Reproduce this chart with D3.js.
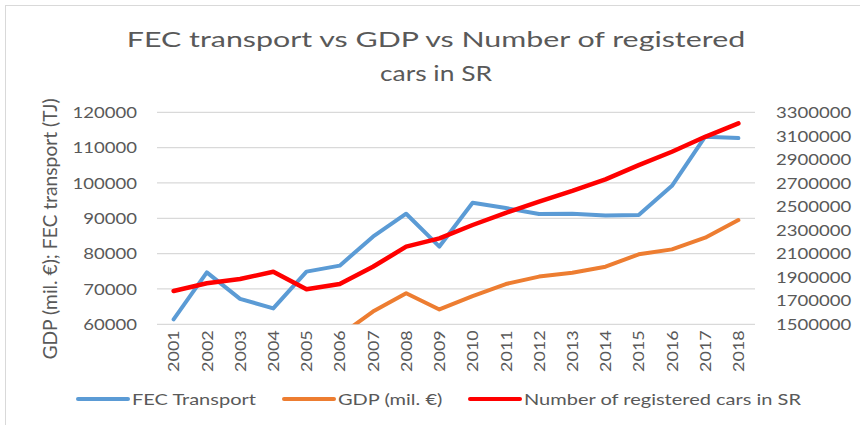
<!DOCTYPE html>
<html>
<head>
<meta charset="utf-8">
<script src="https://cdn.jsdelivr.net/npm/d3@7"></script>
<style>
    body { margin: 0; background: #fff; }
    text { font-family: Lato, "Open Sans", sans-serif; fill: #595959; }
</style>
</head>
<body>
<svg id="chart"></svg>
<script>
// Data
let years = ['2001', '2002', '2003', '2004', '2005', '2006', '2007', '2008', '2009',
    '2010', '2011', '2012', '2013', '2014', '2015', '2016', '2017', '2018'];

let fecTransport = [61400, 74700, 67200, 64500, 74900, 76600, 84800, 91300, 82000,
    94400, 92900, 91200, 91300, 90800, 90900, 99200, 113100, 112700];

// GDP below 60000 is outside the axis; only 2006 is estimated from the clipped segment
let gdp = [null, null, null, null, null, 56800, 63600, 68800, 64200,
    68000, 71400, 73500, 74600, 76300, 79800, 81200, 84500, 89500];

let cars = [1783000, 1848000, 1885000, 1946000, 1797000, 1842000, 1989000, 2159000, 2230000,
    2343000, 2447000, 2541000, 2632000, 2731000, 2852000, 2965000, 3092000, 3206000];

let leftTicks = [60000, 70000, 80000, 90000, 100000, 110000, 120000];
let rightTicks = [1500000, 1700000, 1900000, 2100000, 2300000, 2500000, 2700000, 2900000, 3100000, 3300000];

let titleLines = ['FEC transport vs GDP vs Number of registered', 'cars in SR'];
let leftTitle = 'GDP (mil. €); FEC transport (TJ)';

let series = [
    { name: 'FEC Transport', values: fecTransport, axis: 'left', color: '#5b9bd5' },
    { name: 'GDP (mil. €)', values: gdp, axis: 'left', color: '#ed7d31' },
    { name: 'Number of registered cars in SR', values: cars, axis: 'right', color: '#ff0000' }
];

// Layout
let c = {
    svg: { width: 860, height: 425 },
    plot: { left: 157, right: 755, top: 112.3, bottom: 324.3 },
    stretch: 1.25,
    digit: 10.75
};

let svg = d3.select('#chart')
    .attr('width', c.svg.width)
    .attr('height', c.svg.height);

// outer frame (only left and top edges fall inside the picture)
svg.append('rect')
    .attr('x', 5.5).attr('y', 5.5)
    .attr('width', 900).attr('height', 500)
    .attr('fill', 'none')
    .attr('stroke', '#d9d9d9');

let x = d3.scaleBand()
    .domain(years)
    .range([c.plot.left, c.plot.right]);

let yL = d3.scaleLinear()
    .domain([60000, 120000])
    .range([c.plot.bottom, c.plot.top]);

let yR = d3.scaleLinear()
    .domain([1500000, 3300000])
    .range([c.plot.bottom, c.plot.top]);

/**
 * Widen text horizontally, the reference picture is stretched sideways
 */
function widen(sel, k) {
    sel.each(function () {
        let w = this.getComputedTextLength();
        d3.select(this)
            .attr('textLength', w * k)
            .attr('lengthAdjust', 'spacingAndGlyphs');
    });
}

/**
 * Give every digit the same width, like the tabular figures of the reference
 */
function evenDigits(sel) {
    sel.each(function () {
        let n = this.textContent.length;
        d3.select(this)
            .attr('textLength', n * c.digit)
            .attr('lengthAdjust', 'spacingAndGlyphs');
    });
}

// gridlines
svg.append('g')
    .selectAll('line')
    .data(leftTicks)
    .join('line')
    .attr('x1', c.plot.left)
    .attr('x2', c.plot.right)
    .attr('y1', d => yL(d))
    .attr('y2', d => yL(d))
    .attr('stroke', '#d9d9d9')
    .attr('stroke-width', 1.3);

// left axis
let gLeft = svg.append('g')
    .attr('transform', translate(137, 0))
    .call(d3.axisLeft(yL).tickValues(leftTicks).tickSize(0).tickPadding(0).tickFormat(d3.format('d')));
gLeft.select('.domain').remove();
gLeft.selectAll('text')
    .attr('font-size', 14.5)
    .attr('dy', '0.36em')
    .call(evenDigits);

// right axis
let gRight = svg.append('g')
    .attr('transform', translate(776, 0))
    .call(d3.axisRight(yR).tickValues(rightTicks).tickSize(0).tickPadding(0).tickFormat(d3.format('d')));
gRight.select('.domain').remove();
gRight.selectAll('text')
    .attr('font-size', 14.5)
    .attr('dy', '0.36em')
    .call(evenDigits);

// bottom axis
let gBottom = svg.append('g')
    .attr('transform', translate(0, c.plot.bottom))
    .call(d3.axisBottom(x).tickSize(0).tickPadding(0));
gBottom.select('.domain').remove();
gBottom.selectAll('text')
    .attr('font-size', 16)
    .attr('text-anchor', 'end')
    .attr('transform', 'rotate(-90)')
    .attr('x', -6)
    .attr('y', 0)
    .attr('dy', '0.36em')
    .call(widen, 1.12);

// left axis title
svg.append('text')
    .attr('transform', translate(57, 229) + ' rotate(-90)')
    .attr('text-anchor', 'middle')
    .attr('font-size', 18.5)
    .text(leftTitle)
    .call(widen, 1.04);

// title
let titleStretch = [1.38, 1.2];
svg.append('g')
    .selectAll('text')
    .data(titleLines)
    .join('text')
    .attr('x', 436)
    .attr('y', (d, i) => 47 + i * 34)
    .attr('text-anchor', 'middle')
    .attr('font-size', 22)
    .text(d => d)
    .each(function (d, i) { d3.select(this).call(widen, titleStretch[i]); });

// lines
svg.append('clipPath')
    .attr('id', 'plotclip')
    .append('rect')
    .attr('x', c.plot.left)
    .attr('y', c.plot.top - 10)
    .attr('width', c.plot.right - c.plot.left)
    .attr('height', c.plot.bottom - c.plot.top + 10);

let plot = svg.append('g').attr('clip-path', 'url(#plotclip)');

for (let s of series) {
    let y = s.axis === 'left' ? yL : yR;
    let line = d3.line()
        .defined(d => d != null)
        .x((d, i) => x(years[i]) + x.bandwidth() / 2)
        .y(d => y(d));
    plot.append('path')
        .datum(s.values)
        .attr('d', line)
        .attr('fill', 'none')
        .attr('stroke', s.color)
        .attr('stroke-width', s.axis === 'right' ? 4.5 : 4)
        .attr('stroke-linejoin', 'round')
        .attr('stroke-linecap', 'round');
}

// legend
let legendX = [78, 284, 470];
let legend = svg.append('g')
    .selectAll('g')
    .data(series)
    .join('g')
    .attr('transform', (d, i) => translate(legendX[i], 399));
legend.append('line')
    .attr('x1', 0).attr('x2', 50)
    .attr('stroke', d => d.color)
    .attr('stroke-width', 4)
    .attr('stroke-linecap', 'round');
legend.append('text')
    .attr('x', 54)
    .attr('dy', '0.36em')
    .attr('font-size', 16)
    .text(d => d.name)
    .call(widen, c.stretch);

function translate(x, y) {
    return 'translate(' + x + ',' + y + ')';
}
</script>
</body>
</html>
